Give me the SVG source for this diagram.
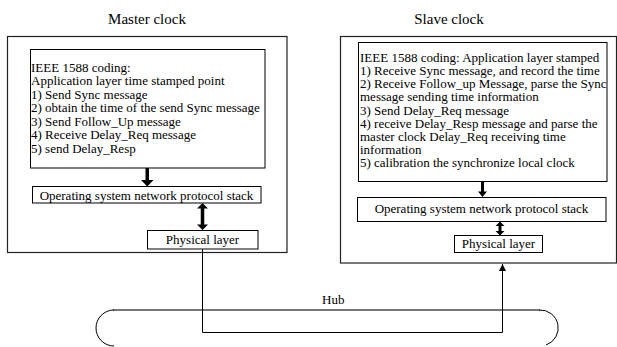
<svg xmlns="http://www.w3.org/2000/svg" width="617" height="347" viewBox="0 0 617 347" font-family="'Liberation Serif', 'Times New Roman', 'DejaVu Serif', serif">
<style>
text{font-family:'Liberation Serif','Times New Roman','DejaVu Serif',serif;font-size:13px;fill:#000}
.title{font-size:15px;text-anchor:middle}
.mid{text-anchor:middle}
.box{fill:#fff;stroke:#000;stroke-width:1}
.outer{fill:#fff;stroke:#222;stroke-width:1.2}
.thin{fill:none;stroke:#000;stroke-width:1}
.hub{fill:none;stroke:#777;stroke-width:1.8}
.arc{fill:none;stroke:#000;stroke-width:1}
.fat{fill:#000;stroke:none}
</style>
<defs>
<marker id="ah" viewBox="0 0 10 10" refX="10" refY="5" markerWidth="7" markerHeight="8" markerUnits="userSpaceOnUse" orient="auto">
<path d="M0,0 L10,5 L0,10 z" fill="#000"/>
</marker>
</defs>

<text class="title" x="147" y="24">Master clock</text>
<text class="title" x="449" y="24">Slave clock</text>

<g id="master">
<rect class="outer" x="7.5" y="36.5" width="279.5" height="216"/>
</g>
<g id="master-app">
<rect class="box" x="30.5" y="49.5" width="234.5" height="118.5"/>
<text x="31" y="71.5">IEEE 1588 coding:</text>
<text x="31" y="85">Application layer time stamped point</text>
<text x="31" y="98.5">1) Send Sync message</text>
<text x="31" y="112">2) obtain the time of the send Sync message</text>
<text x="31" y="125.5">3) Send Follow_Up message</text>
<text x="31" y="139">4) Receive Delay_Req message</text>
<text x="31" y="152.5">5) send Delay_Resp</text>
</g>
<g id="master-os">
<rect class="box" x="32.5" y="186.5" width="228.5" height="16.5"/>
<text class="mid" x="146.5" y="199.5">Operating system network protocol stack</text>
</g>
<g id="master-phy">
<rect class="box" x="147.5" y="230.5" width="110.5" height="18.5"/>
<text class="mid" x="202.5" y="244">Physical layer</text>
</g>

<g id="slave">
<rect class="outer" x="340.5" y="36.5" width="276" height="226.5"/>
</g>
<g id="slave-app">
<rect class="box" x="358.5" y="42.5" width="248.5" height="139"/>
<text x="360" y="62.3">IEEE 1588 coding: Application layer stamped</text>
<text x="360" y="75.3">1) Receive Sync message, and record the time</text>
<text x="360" y="88.4">2) Receive Follow_up Message, parse the Sync</text>
<text x="360" y="101.4">message sending time information</text>
<text x="360" y="114.5">3) Send Delay_Req message</text>
<text x="360" y="127.5">4) receive Delay_Resp message and parse the</text>
<text x="360" y="140.6">master clock Delay_Req receiving time</text>
<text x="360" y="153.6">information</text>
<text x="360" y="166.7">5) calibration the synchronize local clock</text>
</g>
<g id="slave-os">
<rect class="box" x="357.5" y="197.5" width="248.5" height="24"/>
<text class="mid" x="481.5" y="213">Operating system network protocol stack</text>
</g>
<g id="slave-phy">
<rect class="box" x="454.5" y="235.5" width="88" height="17"/>
<text class="mid" x="498.5" y="248">Physical layer</text>
</g>

<g id="hub">
<path class="hub" d="M113,310 H540"/>
<path class="arc" d="M114,310 A18,18 0 0 0 114,346"/>
<path class="arc" d="M539,310 A18,18 0 0 1 546,345"/>
<text x="322" y="304">Hub</text>
</g>

<g id="connectors">
<path class="fat" d="M145.5,168 h3.5 v12 h4.5 l-6.25,6.5 l-6.25,-6.5 h4.5 z"/>
<path class="fat" d="M202.5,203 l5.5,5.5 h-3.75 v16 h3.75 l-5.5,5.5 l-5.5,-5.5 h3.75 v-16 h-3.75 z"/>
<path class="fat" d="M481,181.5 h3 v10 h3 l-4.5,5.5 l-4.5,-5.5 h3 z"/>
<path class="fat" d="M500,221.5 l4.5,4.5 h-3 v5 h3 l-4.5,4.5 l-4.5,-4.5 h3 v-5 h-3 z"/>
<path class="thin" d="M202.5,249 V332.5 H502.5 V264" marker-end="url(#ah)"/>
</g>
</svg>
